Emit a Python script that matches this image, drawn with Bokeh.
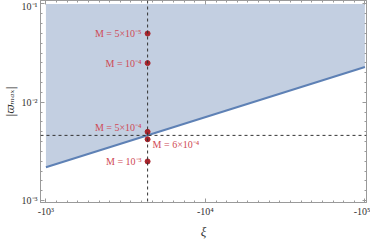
from bokeh.plotting import figure
from bokeh.models import FixedTicker, LogAxis, Span, ColumnDataSource, Range1d
from bokeh.core.properties import value
from bokeh.embed import file_html
from bokeh.resources import INLINE

# ---- data ----
xi_line = [1000, 100000]          # |xi| at ends of the bound line
w_line = [0.00218, 0.0228]        # |varpi_max| along the bound
w_top = [0.1, 0.1]                # top of the allowed (shaded) region
xi_star = [4340, 4340, 4340, 4340, 4340]
M_w = [0.050, 0.025, 0.0050, 0.0042, 0.0025]
M_labels = ["M = 5×10⁻⁵", "M = 10⁻⁴", "M = 5×10⁻⁴", "M = 6×10⁻⁴", "M = 10⁻³"]
xi_cross = 4340
w_cross = 0.0046
x_ticks = [1000, 10000, 100000]
x_tick_labels = ["-10³", "-10⁴", "-10⁵"]
y_ticks = [0.001, 0.01, 0.1]
y_tick_labels = ["10⁻³", "10⁻²", "10⁻¹"]

LINE = "#5E81B5"
FILL = "#C3CFE1"
PT = "#A8232B"
LAB = "#CF4A55"
AX = "#9A9A9A"
TXT = "#333333"
SERIF = "Liberation Serif"

p = figure(frame_width=326, frame_height=202, x_axis_type="log", y_axis_type="log",
           x_range=Range1d(10**2.966, 10**5.01), y_range=Range1d(10**-3.02, 10**-0.965),
           output_backend="svg", toolbar_location=None,
           min_border_left=0, min_border_right=4, min_border_top=0, min_border_bottom=0)
p.grid.visible = False
p.outline_line_color = AX
p.background_fill_color = "white"
p.border_fill_color = "white"

src = ColumnDataSource(dict(x=xi_line, y1=w_line, y2=w_top))
p.varea(x="x", y1="y1", y2="y2", source=src, fill_color=FILL)
p.line(x="x", y="y1", source=src, line_color=LINE, line_width=2)

p.add_layout(Span(location=xi_cross, dimension="height", line_color="#333333",
                  line_dash="3 3", line_width=1))
p.add_layout(Span(location=w_cross, dimension="width", line_color="#333333",
                  line_dash="3 3", line_width=1))

p.scatter(xi_star, M_w, size=5, color=PT)

groups = [([0, 1, 4], "right", -6, 0),
          ([2], "right", -6, -4),
          ([3], "left", 5, 5)]
for idx, align, xo, yo in groups:
    p.text([xi_star[i] for i in idx], [M_w[i] for i in idx], text=[M_labels[i] for i in idx],
           text_align=align, text_baseline="middle", x_offset=xo, y_offset=yo,
           text_font=value(SERIF), text_font_size="10px", text_color=LAB)

x_minor = [10 ** (3 + k / 15) for k in range(0, 31)]
y_minor = [10 ** (-3 + k / 10) for k in range(0, 21)]
xt = FixedTicker(ticks=x_ticks, minor_ticks=x_minor)
yt = FixedTicker(ticks=y_ticks, minor_ticks=y_minor)

def style(ax, show):
    ax.axis_line_color = AX
    ax.major_tick_line_color = AX
    ax.minor_tick_line_color = AX
    ax.major_tick_in = 4
    ax.major_tick_out = 0
    ax.minor_tick_in = 2
    ax.minor_tick_out = 0
    if show:
        ax.major_label_text_font = SERIF
        ax.major_label_text_font_size = "10px"
        ax.major_label_text_color = TXT
        ax.major_label_standoff = 3
    else:
        ax.major_label_text_font_size = "0px"
        ax.major_label_standoff = 0
        ax.major_label_text_alpha = 0

xa = p.xaxis[0]
xa.ticker = xt
xa.major_label_overrides = dict(zip(x_ticks, x_tick_labels))
xa.axis_label = "ξ"
xa.axis_label_text_font = SERIF
xa.axis_label_text_font_style = "italic"
xa.axis_label_text_font_size = "13px"
xa.axis_label_text_color = TXT
xa.axis_label_standoff = 4
style(xa, True)

ya = p.yaxis[0]
ya.ticker = yt
ya.major_label_overrides = dict(zip(y_ticks, y_tick_labels))
ya.axis_label = "|ϖₘₐₓ|"
ya.axis_label_text_font = "DejaVu Serif"
ya.axis_label_text_font_style = "italic"
ya.axis_label_text_font_size = "11px"
ya.axis_label_text_color = TXT
ya.axis_label_standoff = 2
style(ya, True)

top = LogAxis(ticker=xt)
style(top, False)
p.add_layout(top, "above")
right = LogAxis(ticker=yt)
style(right, False)
p.add_layout(right, "right")

open("out.html", "w").write(file_html(p, INLINE))
